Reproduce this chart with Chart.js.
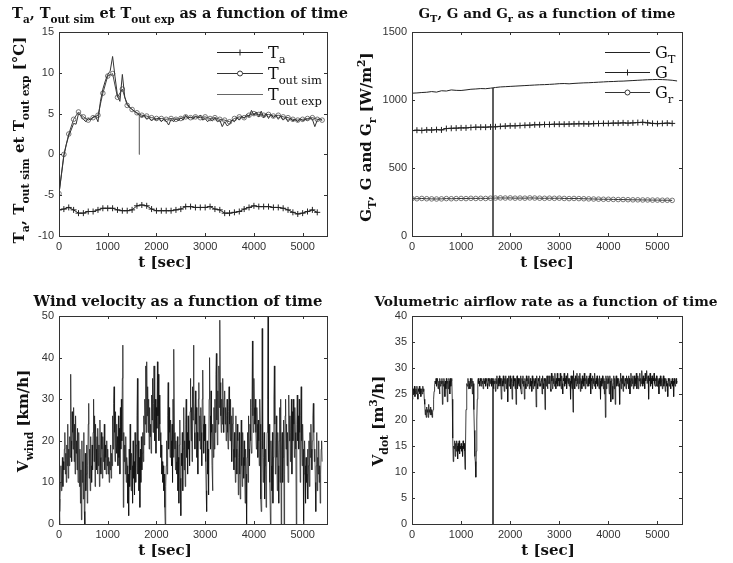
<!DOCTYPE html>
<html>
<head>
<meta charset="utf-8">
<script src="https://cdn.jsdelivr.net/npm/chart.js@4.4.0/dist/chart.umd.min.js"></script>
<style>
  html, body { margin: 0; padding: 0; background: #fff; }
  #page { position: relative; width: 733px; height: 563px; overflow: hidden; }
  .panel { position: absolute; }
</style>
</head>
<body>
<div id="page">
  <div class="panel" style="left:0;top:0;width:350px;height:281px"><canvas id="cTemp"></canvas></div>
  <div class="panel" style="left:350px;top:0;width:383px;height:281px"><canvas id="cRad"></canvas></div>
  <div class="panel" style="left:0;top:281px;width:350px;height:282px"><canvas id="cWind"></canvas></div>
  <div class="panel" style="left:350px;top:281px;width:383px;height:282px"><canvas id="cFlow"></canvas></div>
</div>
<script>
// ---- data ----
// sampling steps of each series (seconds)
const tempStep = 100;      // Ta, Tout sim, GT, G, Gr
const expStep = 50;        // Tout exp
const denseStep = 10;      // wind, airflow
const dropT = 1650;        // sensor drop-out visible in every panel

const xTicks = [0, 1000, 2000, 3000, 4000, 5000];

// temperatures [°C]
const ta = [-6.8,-6.7,-6.5,-6.8,-7.2,-7.2,-7.0,-7.0,-6.8,-6.6,
  -6.6,-6.6,-6.8,-6.9,-6.9,-6.8,-6.3,-6.2,-6.3,-6.7,
  -6.9,-6.9,-6.9,-6.9,-6.8,-6.7,-6.4,-6.4,-6.5,-6.5,
  -6.5,-6.4,-6.7,-6.8,-7.2,-7.2,-7.1,-7.0,-6.7,-6.5,
  -6.3,-6.4,-6.4,-6.4,-6.5,-6.5,-6.6,-6.8,-7.1,-7.3,
  -7.2,-7.0,-6.8,-7.1];
const toutSim = [-4.8,0,2.5,4.3,5.2,4.6,4.2,4.5,4.8,7.5,
  9.6,9.9,7.0,8.0,6.0,5.5,5.1,4.8,4.7,4.5,
  4.4,4.4,4.3,4.4,4.3,4.4,4.6,4.5,4.6,4.5,
  4.6,4.4,4.5,4.3,4.2,4.0,4.4,4.6,4.5,4.8,
  5.0,4.9,4.8,4.9,4.7,4.8,4.6,4.5,4.3,4.2,
  4.3,4.4,4.5,4.3,4.2];
const toutExp = [-4.8,-2.5,-0.2,1.2,2.3,3.0,3.8,3.7,5.0,4.7,
  4.3,4.0,4.4,4.2,4.6,4.7,4.0,6.5,8.0,9.0,
  9.8,10.2,12.0,9.5,7.2,6.5,9.8,7.0,6.2,5.8,
  5.5,5.3,5.0,4.8,4.6,4.8,4.3,4.5,4.1,4.4,
  4.2,4.5,4.0,4.3,4.1,3.6,4.3,4.0,4.4,4.1,
  4.5,4.2,4.8,4.4,4.6,4.3,4.7,4.5,4.8,4.2,
  4.4,4.0,4.3,4.1,4.5,4.0,4.2,3.4,4.0,3.5,
  3.7,4.2,4.0,4.5,4.2,4.7,4.4,4.9,4.6,5.4,
  4.8,5.2,4.6,5.3,4.5,5.0,4.4,4.9,4.5,4.8,
  4.3,4.7,4.2,4.5,4.0,4.4,4.1,4.3,4.0,4.4,
  4.1,4.3,4.2,4.5,4.3,3.4,4.2,4.4,4.2];
const toutExpDrop = [5.0, 0];

// irradiance [W/m2]
const gT = [1050,1052,1055,1057,1062,1058,1068,1066,1074,1071,
  1070,1074,1079,1081,1084,1083,1087,1092,1096,1098,
  1100,1102,1104,1106,1108,1110,1112,1113,1115,1117,
  1120,1121,1119,1122,1124,1126,1127,1129,1131,1133,
  1135,1136,1138,1139,1141,1143,1145,1147,1149,1150,
  1151,1150,1148,1145,1140];
const gDir = [775,778,776,780,779,782,780,790,792,793,
  795,795,798,800,800,800,802,803,806,808,
  810,810,812,814,815,818,818,820,820,822,
  822,822,823,824,825,825,824,826,827,828,
  828,830,830,832,830,832,834,836,832,828,
  826,828,830,828];
const gR = [275,274,276,274,273,272,273,275,274,275,
  276,275,277,276,277,276,278,279,280,279,
  280,278,279,278,280,279,278,277,278,277,
  278,276,275,276,275,274,273,272,271,270,
  270,269,268,268,267,266,266,265,265,264,
  264,263,263,262];
const gTDrop = [1088, 0];

// wind velocity [km/h], one row = 200 s
const wind = [
  6,0,3,10,14,8,12,16,9,15,13,18,22,12,17,10,19,14,24,11,
  18,14,21,16,36,20,15,27,22,18,28,15,24,12,26,17,20,13,23,10,
  16,22,9,18,5,13,1,20,10,15,6,22,3,0,17,8,12,19,5,14,
  24,29,11,18,8,21,14,10,19,13,22,30,15,26,9,24,18,13,21,12,
  23,14,19,9,25,16,12,22,18,11,21,15,17,24,13,19,16,12,20,14,
  18,12,16,10,15,13,19,11,17,14,26,18,29,33,22,15,27,19,24,17,
  21,14,26,16,23,12,28,18,30,20,35,43,4,22,15,19,12,21,10,16,
  14,5,12,2,18,9,24,13,8,17,14,5,20,11,15,7,22,13,10,19,
  26,35,12,20,8,16,4,18,10,21,13,17,22,15,26,19,30,24,38,22,
  39,26,33,22,30,18,28,21,24,17,31,25,35,22,29,38,24,20,30,17,
  28,23,39,26,36,20,31,24,22,16,19,12,15,10,14,8,12,4,0,9,
  14,20,12,26,34,18,28,22,16,25,20,14,24,10,30,16,42,22,18,13,
  20,15,12,21,8,16,5,19,25,11,2,17,14,22,8,18,28,13,20,9,
  24,30,16,22,12,26,18,20,14,27,35,20,28,15,33,25,43,30,22,18,
  32,24,28,16,22,12,30,34,20,26,18,28,22,14,30,37,24,17,26,20,
  24,15,8,3,20,12,18,7,30,40,26,18,32,22,14,8,24,16,28,18,
  30,22,36,41,25,19,32,24,38,28,49,34,26,22,30,24,35,28,22,30,
  32,24,28,20,26,30,22,18,27,33,24,20,30,22,26,15,24,28,18,13,
  22,16,10,26,18,12,24,20,7,16,22,12,6,18,25,14,9,22,16,11,
  20,14,5,18,12,0,16,22,10,26,18,14,24,30,20,17,28,44,26,22,
  35,28,24,30,22,18,28,24,16,25,20,14,30,24,6,3,20,47,18,10,
  16,22,6,14,18,4,12,22,30,50,15,24,18,10,0,20,14,8,22,5,
  16,30,38,24,12,20,26,16,8,22,14,5,20,28,10,30,0,18,22,10,
  16,25,0,12,26,30,18,24,14,22,10,28,31,20,26,15,22,30,12,27,
  20,30,24,16,28,22,18,0,24,31,20,26,18,30,22,10,26,33,20,14,
  24,18,0,12,20,14,5,16,10,12,18,6,14,20,9,22,16,24,18,13,
  20,26,29,22,15,18,10,3,14,22,8,16,12,20,10,14,5,12,18,20,
  15];

// volumetric airflow rate [m3/h], one row = 200 s
const vdot = [
  25,24,25.5,26,25,26.5,24.5,25.5,26,25,26.5,25,24,26,25.5,26.5,25,26,24.5,25.5,
  26,25,26.5,25.5,26,24,23,21,22,20.5,22.5,21.5,22,20.5,23,21.5,22,21,22.5,21,
  22,20.5,21.5,22,24,25.5,26.5,27.5,27,28,26.5,27.5,28,26,27,27.5,25,28,26.5,27.5,
  27,28,23,27.5,26.5,28,27,24.5,27.5,26,28,27,23.5,27.5,26,28,27.5,25,28,26.5,
  27.5,28,24,16.5,12,15,14.5,16,13,15.5,14,16,15,12.5,15.5,14,16,13.5,15,14.5,
  15.5,14,15,13,16,14.5,15.5,14,10.5,15,22,25.5,27,26.5,28,26,27.5,27,26,28,
  27,26.5,28,25,27.5,27,22,18,13,12,9,14,20,24,27.5,28,27,27.5,26.5,28,
  27.5,26.5,28,27,27.5,26,28,27.5,27,28,26.5,27.5,28,27,26,28,27.5,26.5,28,27,
  27.5,28,26.5,27,28,27.5,26,28,27,27.5,25.5,28,27,28.5,26,27.5,28,26.5,28.5,27,
  28,26.5,24,28,27.5,26.5,28.5,27,25.5,28,27,28.5,26,27.5,28,23.5,27.5,28.5,26.5,27,
  28.5,26,27.5,28,24,27,28.5,26.5,28,27.5,26,28,23,27.5,28.5,26,28,27,26.5,28,
  27.5,28.5,26,25,28,27,28.5,26.5,27.5,24,28,27,26,28.5,27.5,26.5,28,27,28.5,26,
  27,28,26.5,27.5,25.5,28.5,27,26,28,27.5,26.5,28,27,22.5,28.5,27,26,28,27.5,26.5,
  28.5,27,26.5,27.5,28,25,28.5,27,26,28,27.5,22,28,26.5,27.5,28.5,26,28,27,28.5,
  27,28.5,26,25.5,29,27.5,26,28.5,27,28,26.5,29,27.5,26,28,27,29,26.5,28,27.5,
  28,26.5,29,27.5,26,28.5,27,25,28,27.5,29,26.5,28,27,28.5,26,27.5,29,27,28,
  26.5,28,27.5,24,28.5,27,26,28.5,21.5,29.5,27,28,26,28.5,27.5,26.5,29,27,28,26,
  28.5,27,29,25.5,28,27.5,26,28.5,27,28,26.5,29,27.5,26,28,27,28.5,26.5,27.5,28,
  26.5,28.5,27,29,25,28,27.5,26,28.5,27,28,26.5,29,27.5,26,28,27,28.5,26.5,28,
  28,26,28.5,27.5,24,28,27,26.5,28.5,27,26,28,25,27.5,20.5,28.5,26,28,27,28.5,
  28,27,25,28.5,27.5,23.5,27.5,28,26.5,24,27,28.5,26,28,23,27.5,28.5,26.5,28,27,
  26.5,28,27,23,27.5,29,26,28,27,28.5,25.5,28.5,27,26.5,28,27.5,26,28.5,27,28,
  27,28.5,26,28,25,27.5,29,26.5,28,27,28.5,26,27.5,28.5,26.5,28,27,29,26,28,
  28.5,26,28,27.5,29,26.5,28,27,29.5,28,26.5,28.5,27,28,26,29,27.5,28,29.5,27,
  27,28.5,24,28,27.5,29,26.5,28,27,28.5,26,28,27.5,29,27,26.5,28,27.5,28.5,26.5,
  26.5,28,27.5,25,28,27,28.5,26.5,27.5,28,26,27.5,28.5,26.5,28,27,25.5,28,27.5,26.5,
  27,24.5,28,27.5,26.5,28,27,26,27.5,27,28,26.5,27.5,24.5,28,27,26.5,27.5,28,27,
  27.5];
const vdotDrop = [27.5, 0];

// ---- helpers ----
function pts(values, step) {
  return values.map((v, i) => ({ x: i * step, y: v }));
}
function drop(values) {
  return values.map(v => ({ x: dropT, y: v }));
}

const serif = '"DejaVu Serif", serif';

function drawRich(ctx, parts, x, y, size, weight, align) {
  let total = 0;
  const pieces = parts.map(([txt, mode]) => {
    const s = mode ? size * 0.72 : size;
    const font = weight + ' ' + s + 'px ' + serif;
    ctx.font = font;
    const w = ctx.measureText(txt).width;
    total += w;
    return { txt, mode, font, w };
  });
  let cx = align === 'center' ? x - total / 2 : x;
  ctx.textAlign = 'left';
  ctx.textBaseline = 'alphabetic';
  pieces.forEach(p => {
    ctx.font = p.font;
    const dy = p.mode === 'sub' ? size * 0.32 : p.mode === 'sup' ? -size * 0.42 : 0;
    ctx.fillText(p.txt, cx, y + dy);
    cx += p.w;
  });
}

function drawMarker(ctx, kind, x, y, color) {
  ctx.strokeStyle = color;
  ctx.lineWidth = 1;
  ctx.beginPath();
  if (kind === 'cross') {
    ctx.moveTo(x - 3, y); ctx.lineTo(x + 3, y);
    ctx.moveTo(x, y - 3); ctx.lineTo(x, y + 3);
  } else if (kind === 'circle') {
    ctx.fillStyle = '#fff';
    ctx.arc(x, y, 2.5, 0, Math.PI * 2);
    ctx.fill();
  }
  ctx.stroke();
}

// page positions of every panel and its texts
const decor = {
  cTemp: {
    box: { x: 0, y: 0, w: 350, h: 281 }, area: { l: 59, t: 32, r: 327, b: 236 },
    title: { parts: [['T'], ['a', 'sub'], [', T'], ['out sim', 'sub'], [' et T'], ['out exp', 'sub'], [' as a function of time']], x: 180, y: 18, size: 14.5 },
    xLabel: { x: 165, y: 267 },
    yLabel: { parts: [['T'], ['a', 'sub'], [', T'], ['out sim', 'sub'], [' et T'], ['out exp', 'sub'], [' [°C]']], x: 24, y: 140 },
    legend: { x0: 217, x1: 263, tx: 268, rows: [
      { y: 52, parts: [['T'], ['a', 'sub']], marker: 'cross', color: '#222' },
      { y: 73, parts: [['T'], ['out sim', 'sub']], marker: 'circle', color: '#333' },
      { y: 94, parts: [['T'], ['out exp', 'sub']], marker: null, color: '#666' }
    ] }
  },
  cRad: {
    box: { x: 350, y: 0, w: 383, h: 281 }, area: { l: 412, t: 32, r: 682, b: 236 },
    title: { parts: [['G'], ['T', 'sub'], [', G and G'], ['r', 'sub'], [' as a function of time']], x: 547, y: 18, size: 13.6 },
    xLabel: { x: 547, y: 267 },
    yLabel: { parts: [['G'], ['T', 'sub'], [', G and G'], ['r', 'sub'], [' [W/m'], ['2', 'sup'], [']']], x: 371, y: 137 },
    legend: { x0: 605, x1: 650, tx: 655, rows: [
      { y: 52, parts: [['G'], ['T', 'sub']], marker: null, color: '#222' },
      { y: 72, parts: [['G']], marker: 'cross', color: '#222' },
      { y: 92, parts: [['G'], ['r', 'sub']], marker: 'circle', color: '#333' }
    ] }
  },
  cWind: {
    box: { x: 0, y: 281, w: 350, h: 282 }, area: { l: 59, t: 316, r: 327, b: 524 },
    title: { parts: [['Wind velocity as a function of time']], x: 178, y: 306, size: 14.8 },
    xLabel: { x: 165, y: 555 },
    yLabel: { parts: [['V'], ['wind', 'sub'], [' [km/h]']], x: 28, y: 421 }
  },
  cFlow: {
    box: { x: 350, y: 281, w: 383, h: 282 }, area: { l: 412, t: 316, r: 682, b: 524 },
    title: { parts: [['Volumetric airflow rate as a function of time']], x: 546, y: 306, size: 13.8 },
    xLabel: { x: 548, y: 555 },
    yLabel: { parts: [['V'], ['dot', 'sub'], [' [m'], ['3', 'sup'], ['/h]']], x: 383, y: 421 }
  }
};

const Y_W = 36, X_H = 20;

// box, inward ticks on all four sides, titles and legend in MATLAB style
const matlabFrame = {
  id: 'matlabFrame',
  afterDraw(chart) {
    const d = decor[chart.canvas.id];
    const ctx = chart.ctx;
    const a = chart.chartArea;
    const ox = d.box.x, oy = d.box.y;
    ctx.save();
    ctx.strokeStyle = '#333';
    ctx.lineWidth = 1;
    ctx.strokeRect(Math.round(a.left) + 0.5, Math.round(a.top) + 0.5,
      Math.round(a.right - a.left), Math.round(a.bottom - a.top));
    ctx.beginPath();
    chart.scales.x.ticks.forEach(t => {
      const px = Math.round(chart.scales.x.getPixelForValue(t.value)) + 0.5;
      ctx.moveTo(px, a.bottom); ctx.lineTo(px, a.bottom - 3);
      ctx.moveTo(px, a.top); ctx.lineTo(px, a.top + 3);
    });
    chart.scales.y.ticks.forEach(t => {
      const py = Math.round(chart.scales.y.getPixelForValue(t.value)) + 0.5;
      ctx.moveTo(a.left, py); ctx.lineTo(a.left + 3, py);
      ctx.moveTo(a.right, py); ctx.lineTo(a.right - 3, py);
    });
    ctx.stroke();

    ctx.fillStyle = '#111';
    drawRich(ctx, d.title.parts, d.title.x - ox, d.title.y - oy, d.title.size, 'bold', 'center');
    drawRich(ctx, [['t [sec]']], d.xLabel.x - ox, d.xLabel.y - oy, 15, 'bold', 'center');
    ctx.save();
    ctx.translate(d.yLabel.x - ox, d.yLabel.y - oy);
    ctx.rotate(-Math.PI / 2);
    drawRich(ctx, d.yLabel.parts, 0, 0, 15, 'bold', 'center');
    ctx.restore();

    if (d.legend) {
      const L = d.legend;
      L.rows.forEach(r => {
        const y = r.y - oy + 0.5;
        ctx.strokeStyle = r.color;
        ctx.lineWidth = 1;
        ctx.beginPath();
        ctx.moveTo(L.x0 - ox, y); ctx.lineTo(L.x1 - ox, y);
        ctx.stroke();
        if (r.marker) drawMarker(ctx, r.marker, (L.x0 + L.x1) / 2 - ox, y, r.color);
        ctx.fillStyle = '#111';
        drawRich(ctx, r.parts, L.tx - ox, r.y - oy + 6, 16, 'normal', 'left');
      });
    }
    ctx.restore();
  }
};

function makeChart(id, datasets, yMin, yMax, yStep) {
  const d = decor[id];
  const tickFont = { family: '"Liberation Sans", Arial, sans-serif', size: 11 };
  return new Chart(document.getElementById(id), {
    type: 'scatter',
    data: { datasets },
    options: {
      responsive: true,
      maintainAspectRatio: false,
      animation: false,
      events: [],
      layout: {
        padding: {
          left: d.area.l - d.box.x - Y_W,
          top: d.area.t - d.box.y,
          right: d.box.x + d.box.w - d.area.r,
          bottom: d.box.y + d.box.h - d.area.b - X_H
        }
      },
      plugins: { legend: { display: false }, tooltip: { enabled: false } },
      scales: {
        x: {
          type: 'linear', min: 0, max: 5500,
          afterFit: s => { s.height = X_H; },
          afterBuildTicks: s => { s.ticks = xTicks.map(v => ({ value: v })); },
          grid: { display: false, drawTicks: false },
          border: { display: false },
          ticks: { padding: 4, color: '#333', font: tickFont, maxRotation: 0, autoSkip: false, callback: v => String(v) }
        },
        y: {
          type: 'linear', min: yMin, max: yMax,
          afterFit: s => { s.width = Y_W; },
          grid: { display: false, drawTicks: false },
          border: { display: false },
          ticks: { stepSize: yStep, padding: 5, color: '#333', font: tickFont, callback: v => String(v) }
        }
      },
      elements: { line: { tension: 0 } }
    },
    plugins: [matlabFrame]
  });
}

function line(data, color, width, extra) {
  return Object.assign({ data, showLine: true, borderColor: color, borderWidth: width, pointRadius: 0, fill: false }, extra || {});
}
const crossPts = { pointStyle: 'cross', pointRadius: 3, pointBorderWidth: 1 };
const circlePts = { pointStyle: 'circle', pointRadius: 2.3, pointBorderWidth: 0.8, pointBackgroundColor: 'rgba(255,255,255,0)' };

makeChart('cTemp', [
  line(pts(ta, tempStep), '#222', 1, Object.assign({ pointBorderColor: '#222' }, crossPts)),
  line(pts(toutExp, expStep), '#333', 1),
  line(drop(toutExpDrop), '#777', 1),
  line(pts(toutSim, tempStep), '#444', 1, Object.assign({ pointBorderColor: '#555' }, circlePts))
], -10, 15, 5);

makeChart('cRad', [
  line(pts(gT, tempStep), '#222', 1),
  line(drop(gTDrop), '#333', 0.8),
  line(pts(gDir, tempStep), '#222', 1, Object.assign({ pointBorderColor: '#222' }, crossPts)),
  line(pts(gR, tempStep), '#333', 1, Object.assign({ pointBorderColor: '#555' }, circlePts))
], 0, 1500, 500);

makeChart('cWind', [
  line(pts(wind, denseStep), '#111', 0.7)
], 0, 50, 10);

makeChart('cFlow', [
  line(pts(vdot, denseStep), '#111', 0.8),
  line(drop(vdotDrop), '#222', 0.8)
], 0, 40, 5);
</script>
</body>
</html>
